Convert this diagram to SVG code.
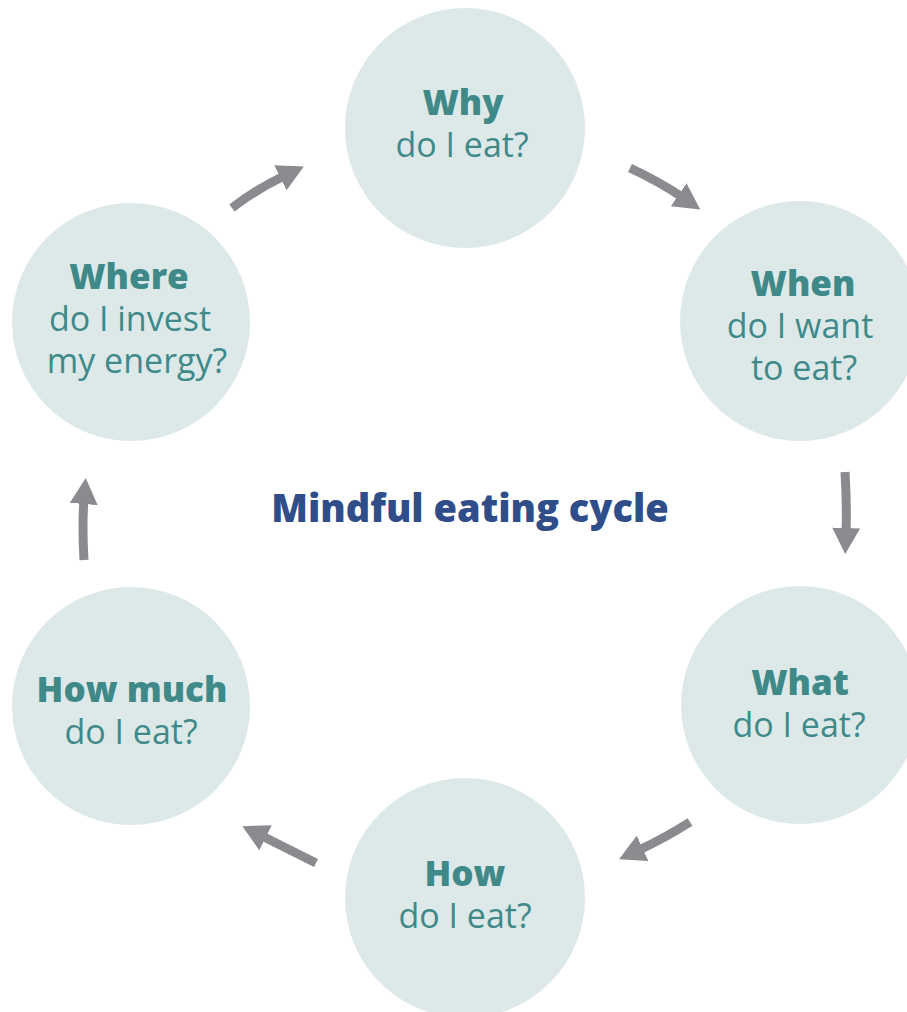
<svg xmlns="http://www.w3.org/2000/svg" width="907" height="1012" viewBox="0 0 907 1012">
<style>
.c{fill:#dde9e9}
.t{font-family:"Open Sans","Noto Sans",sans-serif;fill:#3f8a89;text-anchor:middle}
.b{font-weight:800;font-size:35px}
.l{font-weight:400;font-size:34px}
.a{fill:none;stroke:#8b8b8f;stroke-width:9;marker-end:url(#ah)}
</style>
<defs>
<marker id="ah" markerUnits="userSpaceOnUse" viewBox="0 0 26 28" refX="4" refY="14" markerWidth="26" markerHeight="28" orient="auto">
<polygon points="0,0 26,14 0,28" fill="#8b8b8f"/>
</marker>
</defs>
<g id="connectors">
<path class="a" d="M232,208 Q255,190 284,176"/>
<path class="a" d="M630,168 Q660,182 682,197"/>
<path class="a" d="M845,472 Q847,505 846,532"/>
<path class="a" d="M690,822 Q665,838 639,850"/>
<path class="a" d="M316,863 Q290,850 262,836"/>
<path class="a" d="M84,560 Q82,525 84,500"/>
</g>
<g id="why"><circle class="c" cx="465" cy="128" r="120"/>
<text class="t b" x="463" y="115">Why</text><text class="t l" x="462" y="157">do I eat?</text></g>
<g id="when"><circle class="c" cx="800" cy="321" r="120"/>
<text class="t b" x="803" y="296">When</text><text class="t l" x="800" y="338">do I want</text><text class="t l" x="804" y="380">to eat?</text></g>
<g id="what"><circle class="c" cx="800" cy="705" r="119"/>
<text class="t b" x="800" y="695">What</text><text class="t l" x="799" y="737">do I eat?</text></g>
<g id="how"><circle class="c" cx="465" cy="898" r="120"/>
<text class="t b" x="465" y="886">How</text><text class="t l" x="465" y="928">do I eat?</text></g>
<g id="howmuch"><circle class="c" cx="131" cy="706" r="119"/>
<text class="t b" x="132" y="702">How much</text><text class="t l" x="131" y="744">do I eat?</text></g>
<g id="where"><circle class="c" cx="131" cy="322" r="119"/>
<text class="t b" x="129" y="289">Where</text><text class="t l" x="130" y="331">do I invest</text><text class="t l" x="137" y="373">my energy?</text></g>
<g id="title"><text x="470" y="522" style="font-family:'Open Sans','Noto Sans',sans-serif;font-weight:800;font-size:38px;fill:#2f4d89;text-anchor:middle">Mindful eating cycle</text></g>
</svg>
